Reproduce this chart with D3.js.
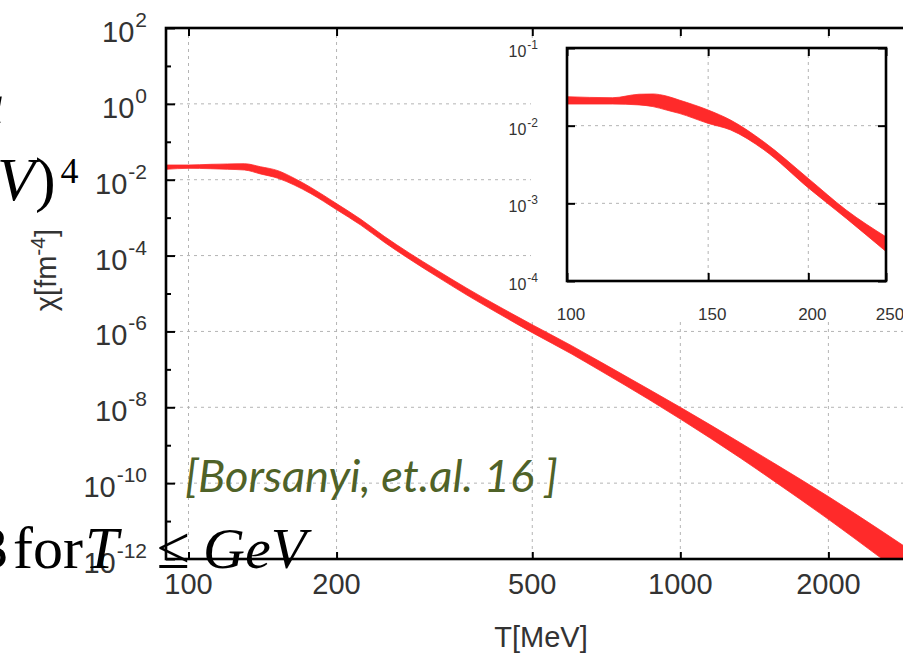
<!DOCTYPE html>
<html>
<head>
<meta charset="utf-8">
<script src="https://cdn.jsdelivr.net/npm/d3@7"></script>
<style>
  html, body { margin: 0; padding: 0; background: #fff; overflow: hidden; }
  svg { display: block; }
</style>
</head>
<body>
<script>
// Topological susceptibility chi(T) from lattice QCD: error band on log-log axes,
// with a zoomed inset of the 100-250 MeV region.

// Main panel: temperature (MeV) and band edges (fm^-4)
const mainT  = [90, 100, 111, 120, 130, 140, 152, 164, 177, 200, 224, 250, 281, 320, 368, 420, 502, 600, 688, 863, 1000, 1324, 1546, 2000, 2543, 3000];
const mainHi = [2.443e-2, 2.443e-2, 2.547e-2, 2.600e-2, 2.642e-2, 2.203e-2, 1.730e-2, 1.096e-2, 6.35e-3, 2.344e-3, 9.07e-4, 3.22e-4, 1.175e-4, 4.12e-5, 1.38e-5, 5.19e-6, 1.462e-6, 4.27e-7, 1.576e-7, 2.985e-8, 1.00e-8, 1.159e-9, 3.43e-10, 4.44e-11, 5.89e-12, 1.413e-12];
const mainLo = [1.879e-2, 1.995e-2, 1.950e-2, 1.884e-2, 1.803e-2, 1.422e-2, 1.091e-2, 7.24e-3, 4.34e-3, 1.622e-3, 6.35e-4, 2.25e-4, 8.13e-5, 2.79e-5, 9.12e-6, 3.35e-6, 9.02e-7, 2.57e-7, 9.17e-8, 1.603e-8, 4.90e-9, 4.61e-10, 1.161e-10, 1.114e-11, 1.122e-12, 2.24e-13];

// Inset panel
const insetT  = [100, 114, 123, 128, 133, 138, 150, 160, 176, 200, 223, 250];
const insetHi = [2.36e-2, 2.29e-2, 2.54e-2, 2.56e-2, 2.41e-2, 2.14e-2, 1.59e-2, 1.18e-2, 6.2e-3, 2.09e-3, 8.2e-4, 3.7e-4];
const insetLo = [1.90e-2, 1.90e-2, 1.85e-2, 1.76e-2, 1.59e-2, 1.44e-2, 1.07e-2, 8.8e-3, 4.9e-3, 1.58e-3, 6.4e-4, 2.4e-4];

// Ticks
const xTicks      = [100, 200, 500, 1000, 2000];
const yLabelExp   = [2, 0, -2, -4, -6, -8, -10, -12];
const yMinorExp   = [1, -1, -3, -5, -7, -9, -11];
const yGridExp    = [0, -2, -4, -6, -8, -10];
const insetXTicks = [100, 150, 200, 250];
const insetYExp   = [-1, -2, -3, -4];

const W = 903, H = 655;
const RED = "#ff2a2a";
const TXT = "#333";
const SANS = "'Liberation Sans', Arial, Helvetica, sans-serif";
const SERIF = "'Liberation Serif', 'DejaVu Serif', serif";

const svg = d3.select("body").append("svg").attr("width", W).attr("height", H);
const defs = svg.append("defs");

// ---------- main panel ----------
const P = { left: 166, top: 28, right: 915, bottom: 559 };
const x = d3.scaleLog().domain([90, 3000]).range([P.left, P.right]);
const y = d3.scaleLog().domain([1e-12, 1e2]).range([P.bottom, P.top]);

defs.append("clipPath").attr("id", "mainClip")
  .append("rect").attr("x", P.left).attr("y", P.top)
  .attr("width", P.right - P.left).attr("height", P.bottom - P.top);

const grid = svg.append("g").attr("stroke", "#b4b4b4").attr("stroke-width", 1)
  .attr("stroke-dasharray", "3,4");
grid.selectAll(".gx").data(xTicks).join("line")
  .attr("x1", d => x(d)).attr("x2", d => x(d)).attr("y1", P.top).attr("y2", P.bottom);
grid.selectAll(".gy").data(yGridExp).join("line")
  .attr("x1", P.left).attr("x2", P.right)
  .attr("y1", d => y(Math.pow(10, d))).attr("y2", d => y(Math.pow(10, d)));

const mainData = mainT.map((t, i) => ({ t, hi: mainHi[i], lo: mainLo[i] }));
const mainArea = d3.area().curve(d3.curveMonotoneX)
  .x(d => x(d.t)).y0(d => y(d.lo)).y1(d => y(d.hi));

// ticks, pointing inwards
function tickAxis(axis, tx, ty) {
  const g = svg.append("g").attr("transform", `translate(${tx},${ty})`).call(axis);
  g.select(".domain").remove();
  g.selectAll(".tick line").attr("stroke", "#000").attr("stroke-width", 2);
  g.selectAll(".tick text").remove();
  return g;
}
const yMajorVals = d3.range(-12, 3, 2).map(e => Math.pow(10, e));
const yMinorVals = yMinorExp.map(e => Math.pow(10, e));
tickAxis(d3.axisLeft(y).tickValues(yMajorVals).tickSize(-9).tickSizeOuter(0), P.left, 0);
tickAxis(d3.axisLeft(y).tickValues(yMinorVals).tickSize(-5).tickSizeOuter(0), P.left, 0);
tickAxis(d3.axisRight(y).tickValues(yMajorVals).tickSize(-9).tickSizeOuter(0), P.right, 0);
tickAxis(d3.axisBottom(x).tickValues(xTicks).tickSize(-7).tickSizeOuter(0), 0, P.bottom);
tickAxis(d3.axisTop(x).tickValues(xTicks).tickSize(-8).tickSizeOuter(0), 0, P.top);

// ---------- inset (cleared backdrop first, then the band on top of it) ----------
const I = { left: 567, top: 48, right: 886, bottom: 281 };
const ix = d3.scaleLog().domain([100, 250]).range([I.left, I.right]);
const iy = d3.scaleLog().domain([1e-4, 1e-1]).range([I.bottom, I.top]);

svg.append("rect").attr("x", 531).attr("y", 38).attr("width", W - 531).attr("height", 284)
  .attr("fill", "#fff");

// main band drawn after the backdrop so it is never covered by it
svg.append("path").datum(mainData).attr("clip-path", "url(#mainClip)")
  .attr("d", mainArea).attr("fill", RED).attr("stroke", RED).attr("stroke-width", 0.8);

svg.append("rect").attr("x", P.left).attr("y", P.top)
  .attr("width", P.right - P.left).attr("height", P.bottom - P.top)
  .attr("fill", "none").attr("stroke", "#000").attr("stroke-width", 2.6);

defs.append("clipPath").attr("id", "insetClip")
  .append("rect").attr("x", I.left).attr("y", I.top)
  .attr("width", I.right - I.left).attr("height", I.bottom - I.top);

const igrid = svg.append("g").attr("stroke", "#b4b4b4").attr("stroke-width", 1)
  .attr("stroke-dasharray", "3,4");
igrid.selectAll("line.v").data(insetXTicks.slice(1, -1)).join("line")
  .attr("x1", d => ix(d)).attr("x2", d => ix(d)).attr("y1", I.top).attr("y2", I.bottom);
igrid.selectAll("line.h").data(insetYExp.slice(1, -1)).join("line")
  .attr("x1", I.left).attr("x2", I.right)
  .attr("y1", d => iy(Math.pow(10, d))).attr("y2", d => iy(Math.pow(10, d)));

const insetData = insetT.map((t, i) => ({ t, hi: insetHi[i], lo: insetLo[i] }));
const insetArea = d3.area().curve(d3.curveMonotoneX)
  .x(d => ix(d.t)).y0(d => iy(d.lo)).y1(d => iy(d.hi));
svg.append("path").datum(insetData).attr("clip-path", "url(#insetClip)")
  .attr("d", insetArea).attr("fill", RED).attr("stroke", RED).attr("stroke-width", 0.8);

const iyVals = insetYExp.map(e => Math.pow(10, e));
tickAxis(d3.axisLeft(iy).tickValues(iyVals).tickSize(-8).tickSizeOuter(0), I.left, 0);
tickAxis(d3.axisRight(iy).tickValues(iyVals).tickSize(-8).tickSizeOuter(0), I.right, 0);
tickAxis(d3.axisBottom(ix).tickValues(insetXTicks).tickSize(-8).tickSizeOuter(0), 0, I.bottom);
tickAxis(d3.axisTop(ix).tickValues(insetXTicks).tickSize(-8).tickSizeOuter(0), 0, I.top);

svg.append("rect").attr("x", I.left).attr("y", I.top)
  .attr("width", I.right - I.left).attr("height", I.bottom - I.top)
  .attr("fill", "none").attr("stroke", "#000").attr("stroke-width", 2.6);

// ---------- labels ----------
function powerLabel(px, py, exp, size, supSize, rise, anchor) {
  const t = svg.append("text").attr("x", px).attr("y", py).attr("text-anchor", anchor)
    .attr("font-family", SANS).attr("font-size", size).attr("fill", TXT);
  t.append("tspan").text("10");
  t.append("tspan").attr("font-size", supSize).attr("dx", 1).attr("dy", -rise).text(String(exp));
  return t;
}

yLabelExp.forEach(e => powerLabel(147, y(Math.pow(10, e)) + 14, e, 29, 21, 15, "end"));

xTicks.forEach(v => {
  svg.append("text").attr("x", x(v)).attr("y", 594).attr("text-anchor", "middle")
    .attr("font-family", SANS).attr("font-size", 29).attr("fill", TXT).text(v);
});

svg.append("text").attr("x", 541).attr("y", 647).attr("text-anchor", "middle")
  .attr("font-family", SANS).attr("font-size", 29).attr("fill", TXT).text("T[MeV]");

{
  const t = svg.append("text")
    .attr("transform", "translate(56,270) rotate(-90)")
    .attr("text-anchor", "middle").attr("font-family", SANS).attr("font-size", 29).attr("fill", TXT);
  t.append("tspan").text("χ[fm");
  t.append("tspan").attr("font-size", 21).attr("dy", -11).text("-4");
  t.append("tspan").attr("dy", 11).text("]");
}

insetYExp.forEach(e => powerLabel(538, iy(Math.pow(10, e)) + 9, e, 16, 12, 8, "end"));
insetXTicks.forEach(v => {
  svg.append("text").attr("x", ix(v) + 4).attr("y", 320).attr("text-anchor", "middle")
    .attr("font-family", SANS).attr("font-size", 17).attr("fill", TXT).text(v);
});

// ---------- slide lettering over the figure ----------
{
  const frag = svg.append("text").attr("x", 0).attr("y", 123)
    .attr("font-family", SERIF).attr("font-style", "italic").attr("font-size", 58)
    .attr("fill", "#000").text("a");
  const bb = frag.node().getBBox();
  frag.attr("x", 4 - (bb.x + bb.width));
}
{
  const t = svg.append("text").attr("x", -3).attr("y", 200)
    .attr("font-family", SERIF).attr("font-size", 62).attr("fill", "#000");
  t.append("tspan").attr("font-style", "italic").text("V");
  t.append("tspan").text(")");
  t.append("tspan").attr("font-size", 36).attr("dx", 5).attr("dy", -17).text("4");
}
svg.append("text").attr("x", 8).attr("y", 568).attr("text-anchor", "end")
  .attr("font-family", SERIF).attr("font-size", 60).attr("fill", "#000").text("3");
svg.append("text").attr("x", 13).attr("y", 568)
  .attr("font-family", SERIF).attr("font-size", 60).attr("fill", "#000").text("for");
svg.append("text").attr("x", 85).attr("y", 568)
  .attr("font-family", SERIF).attr("font-style", "italic").attr("font-size", 60)
  .attr("fill", "#000").text("T");
svg.append("text").attr("x", 157).attr("y", 568)
  .attr("font-family", SERIF).attr("font-size", 60).attr("fill", "#000").text("≤");
svg.append("text").attr("x", 203).attr("y", 568)
  .attr("font-family", SERIF).attr("font-style", "italic").attr("font-size", 58)
  .attr("fill", "#000").text("GeV");

{
  const cite = svg.append("text").attr("x", 185).attr("y", 492)
    .attr("font-family", "Lato, 'Open Sans', sans-serif").attr("font-style", "italic")
    .attr("font-size", 38).attr("fill", "#4f6228").text("[Borsanyi, et.al. 16 ]");
  const w = cite.node().getComputedTextLength();
  cite.attr("font-size", 38 * 373 / w);
}
</script>
</body>
</html>
